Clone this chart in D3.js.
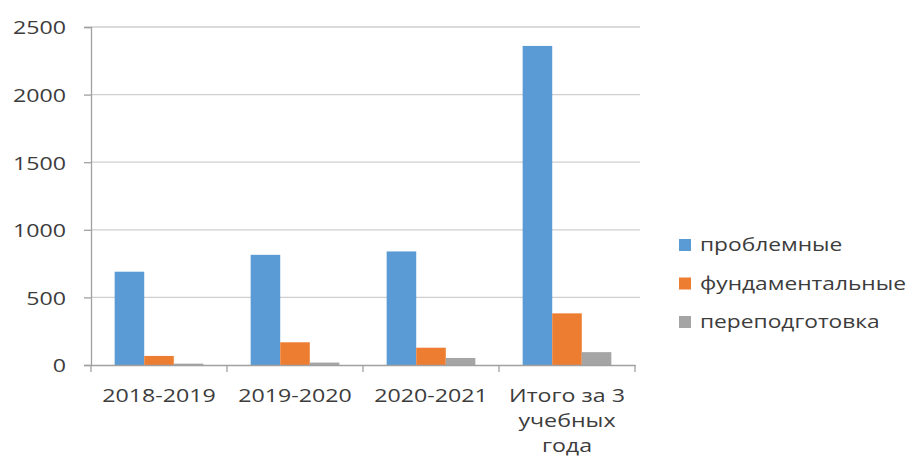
<!DOCTYPE html>
<html>
<head>
<meta charset="utf-8">
<script src="https://cdn.jsdelivr.net/npm/d3@7"></script>
<style>
  html, body { margin: 0; padding: 0; background: #fff; }
  svg text { font-family: "Open Sans", sans-serif; fill: #3c3c3c; }
</style>
</head>
<body>
<div id="chart"></div>
<script>
// Data
const categories = ['2018-2019', '2019-2020', '2020-2021', 'Итого за 3|учебных|года'];
const seriesNames = ['проблемные', 'фундаментальные', 'переподготовка'];
const problemnye = [690, 815, 840, 2360];
const fundamentalnye = [67, 168, 128, 382];
const perepodgotovka = [10, 18, 52, 95];
const yTicks = [0, 500, 1000, 1500, 2000, 2500];

const colors = ['#5b9bd5', '#ed7d31', '#a5a5a5'];
const seriesValues = [problemnye, fundamentalnye, perepodgotovka];

const width = 914, height = 457;
const svg = d3.select('#chart').append('svg')
  .attr('width', width)
  .attr('height', height);

const x0 = d3.scaleBand().domain(categories).range([91, 635]).paddingInner(0).paddingOuter(0);
const x1 = d3.scaleBand().domain(seriesNames).range([0, x0.bandwidth()]).paddingInner(0).paddingOuter(0.8);
const y = d3.scaleLinear().domain([0, 2500]).range([365, 27]);

// Gridlines
svg.append('g')
  .selectAll('line')
  .data(yTicks.filter(d => d > 0))
  .join('line')
  .attr('x1', 91).attr('x2', 640)
  .attr('y1', d => y(d)).attr('y2', d => y(d))
  .attr('stroke', '#cfcfcf')
  .attr('stroke-width', 1.3);

// Bars
const groups = svg.append('g')
  .selectAll('g')
  .data(categories)
  .join('g')
  .attr('transform', d => `translate(${x0(d)},0)`);

groups.selectAll('rect')
  .data((c, i) => seriesNames.map((s, k) => ({ s, k, v: seriesValues[k][i] })))
  .join('rect')
  .attr('x', d => x1(d.s))
  .attr('width', x1.bandwidth())
  .attr('y', d => y(d.v))
  .attr('height', d => y(0) - y(d.v))
  .attr('fill', d => colors[d.k]);

// Y axis
const yAxis = svg.append('g')
  .attr('transform', 'translate(91,0)')
  .call(d3.axisLeft(y).tickValues(yTicks).tickFormat(d3.format('d')).tickSize(7).tickPadding(18));
yAxis.select('.domain').attr('stroke', '#a0a0a0').attr('stroke-width', 1.3);
yAxis.selectAll('.tick line').attr('stroke', '#a0a0a0').attr('stroke-width', 1.3);
yAxis.selectAll('.tick text').attr('font-size', 19).attr('fill', '#3c3c3c').attr('dy', '0.36em');

// X axis
const xAxis = svg.append('g')
  .attr('transform', 'translate(0,365)')
  .call(d3.axisBottom(x0).tickSize(0).tickFormat(''));
xAxis.select('.domain').attr('stroke', '#a0a0a0').attr('stroke-width', 1.3);
xAxis.selectAll('.tick').remove();

// category boundary ticks
const bounds = categories.map(c => x0(c)).concat([x0(categories[categories.length - 1]) + x0.bandwidth()]);
xAxis.append('g').selectAll('line')
  .data(bounds)
  .join('line')
  .attr('x1', d => d).attr('x2', d => d)
  .attr('y1', 0).attr('y2', 7)
  .attr('stroke', '#a0a0a0')
  .attr('stroke-width', 1.3);

// category labels (multi-line)
const catLabels = svg.append('g')
  .selectAll('text')
  .data(categories)
  .join('text')
  .attr('text-anchor', 'middle')
  .attr('font-size', 19);
catLabels.each(function (d) {
  const t = d3.select(this);
  d.split('|').forEach((line, i) => {
    t.append('tspan')
      .attr('x', x0(d) + x0.bandwidth() / 2)
      .attr('y', 402 + i * 25)
      .text(line);
  });
});

// Legend
const legendX = 679, legendTextX = 21;
const legend = svg.append('g')
  .selectAll('g')
  .data(seriesNames)
  .join('g')
  .attr('transform', (d, i) => `translate(${legendX},${245 + i * 38.5})`);
legend.append('rect')
  .attr('x', 0).attr('y', -6)
  .attr('width', 12).attr('height', 12)
  .attr('fill', (d, i) => colors[i]);
legend.append('text')
  .attr('x', legendTextX)
  .attr('dy', '0.35em')
  .attr('font-size', 18.5)
  .text(d => d);

// the reference is stretched horizontally; widen glyphs to match
function widen(sel, k) {
  sel.each(function () {
    const w = this.getComputedTextLength();
    d3.select(this).attr('textLength', w * k).attr('lengthAdjust', 'spacingAndGlyphs');
  });
}
widen(yAxis.selectAll('.tick text'), 1.22);
widen(svg.selectAll('tspan'), 1.22);
// legend: longest label should end near x=906
const longest = d3.max(legend.selectAll('text').nodes(), n => n.getComputedTextLength());
widen(legend.selectAll('text'), (906 - legendX - legendTextX) / longest);
</script>
</body>
</html>
